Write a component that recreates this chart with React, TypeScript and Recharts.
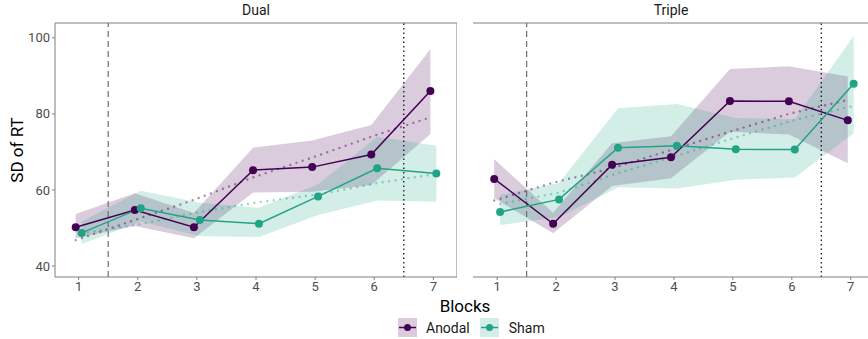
import React from "react";
import {
  Area,
  ComposedChart,
  Line,
  ReferenceLine,
  XAxis,
  YAxis,
} from "recharts";

const blocks = [1, 2, 3, 4, 5, 6, 7];

// Dual
const dualAnodalMean = [50.2, 54.7, 50.2, 65.2, 66.0, 69.3, 86.0];
const dualAnodalLow = [47.3, 50.5, 47.3, 59.3, 59.5, 61.3, 74.7];
const dualAnodalHigh = [53.7, 59.1, 53.9, 71.1, 73.0, 77.1, 97.0];
const dualAnodalTrend = [46.8, 52.1, 57.4, 63.3, 68.5, 74.0, 79.1];

const dualShamMean = [48.7, 55.2, 52.1, 51.1, 58.3, 65.7, 64.3];
const dualShamLow = [45.8, 51.7, 47.8, 47.6, 53.4, 57.2, 56.9];
const dualShamHigh = [51.7, 59.8, 56.6, 55.3, 61.5, 74.0, 71.6];
const dualShamTrend = [48.6, 51.0, 54.2, 56.8, 58.8, 61.8, 64.2];

// Triple
const tripleAnodalMean = [62.9, 51.1, 66.6, 68.6, 83.4, 83.3, 78.3];
const tripleAnodalLow = [57.8, 48.6, 61.0, 63.1, 75.3, 74.6, 67.0];
const tripleAnodalHigh = [68.1, 54.0, 72.3, 74.1, 91.8, 92.5, 89.8];
const tripleAnodalTrend = [57.2, 61.9, 65.7, 70.5, 75.3, 80.0, 83.7];

const tripleShamMean = [54.2, 57.5, 71.1, 71.6, 70.7, 70.6, 87.9];
const tripleShamLow = [50.8, 52.8, 60.7, 60.4, 62.7, 63.3, 74.9];
const tripleShamHigh = [58.7, 61.8, 81.5, 82.6, 78.9, 78.6, 100.5];
const tripleShamTrend = [56.3, 59.3, 64.4, 69.0, 73.8, 78.4, 82.1];

const yTicks = [40, 60, 80, 100];
const yDomain: [number, number] = [37.1, 103.9];

const ANODAL = "#440154";
const SHAM = "#21a386";
const BORDER = "#7f7f7f";
const FONT = "Roboto, 'DejaVu Sans', sans-serif";

type Row = { x: number; mean: number; band: [number, number]; trend: number };

function buildRows(
  mean: number[],
  low: number[],
  high: number[],
  trend: number[],
  dodge: number
): Row[] {
  return blocks.map((b, i) => ({
    x: b + dodge,
    mean: mean[i],
    band: [low[i], high[i]],
    trend: trend[i],
  }));
}

type PanelProps = {
  title: string;
  left: number;
  width: number;
  domain: [number, number];
  yLabels: boolean;
  anodal: Row[];
  sham: Row[];
};

function Panel({ title, left, width, domain, yLabels, anodal, sham }: PanelProps) {
  const yw = yLabels ? 55 : 0;
  const plotW = width - yw;
  return (
    <div style={{ position: "absolute", left, top: 0, width, height: 339 }}>
      <div
        style={{
          position: "absolute",
          left: yw,
          width: plotW,
          top: 2,
          textAlign: "center",
          fontFamily: FONT,
          fontSize: 14,
          color: "#1a1a1a",
        }}
      >
        {title}
      </div>
      <ComposedChart
        width={width}
        height={339}
        margin={{ top: 23, right: 0, bottom: 0, left: 0 }}
      >
        <XAxis
          xAxisId="b"
          dataKey="x"
          type="number"
          domain={domain}
          allowDataOverflow
          ticks={blocks}
          tickSize={3}
          tickLine={{ stroke: BORDER }}
          axisLine={{ stroke: BORDER }}
          tick={{ fill: "#4d4d4d", fontSize: 13, fontFamily: FONT }}
          height={62}
        />
        <YAxis
          yAxisId="l"
          type="number"
          domain={yDomain}
          allowDataOverflow
          ticks={yTicks}
          tickSize={3}
          width={yw}
          tick={yLabels ? { fill: "#4d4d4d", fontSize: 13, fontFamily: FONT } : false}
          tickLine={yLabels ? { stroke: BORDER } : false}
          axisLine={{ stroke: BORDER }}
        />
        <Area
          xAxisId="b"
          yAxisId="l"
          data={anodal}
          dataKey="band"
          type="linear"
          stroke="none"
          fill={ANODAL}
          fillOpacity={0.2}
          isAnimationActive={false}
        />
        <Area
          xAxisId="b"
          yAxisId="l"
          data={sham}
          dataKey="band"
          type="linear"
          stroke="none"
          fill={SHAM}
          fillOpacity={0.2}
          isAnimationActive={false}
        />
        {/* panel border: top and right */}
        <ReferenceLine
          xAxisId="b"
          yAxisId="l"
          y={yDomain[1]}
          stroke={BORDER}
          strokeWidth={1}
          ifOverflow="visible"
        />
        <ReferenceLine
          xAxisId="b"
          yAxisId="l"
          x={domain[1]}
          stroke={BORDER}
          strokeWidth={1}
          ifOverflow="visible"
        />
        <ReferenceLine
          xAxisId="b"
          yAxisId="l"
          x={1.5}
          stroke="#6e6e6e"
          strokeWidth={1.2}
          strokeDasharray="6 4"
        />
        <ReferenceLine
          xAxisId="b"
          yAxisId="l"
          x={6.5}
          stroke="#000"
          strokeWidth={1.2}
          strokeDasharray="1.5 3"
        />
        <Line
          xAxisId="b"
          yAxisId="l"
          data={anodal}
          dataKey="trend"
          type="linear"
          stroke={ANODAL}
          strokeOpacity={0.45}
          strokeWidth={2.4}
          strokeDasharray="0 6.5"
          strokeLinecap="round"
          dot={false}
          isAnimationActive={false}
        />
        <Line
          xAxisId="b"
          yAxisId="l"
          data={sham}
          dataKey="trend"
          type="linear"
          stroke={SHAM}
          strokeOpacity={0.45}
          strokeWidth={2.4}
          strokeDasharray="0 6.5"
          strokeLinecap="round"
          dot={false}
          isAnimationActive={false}
        />
        <Line
          xAxisId="b"
          yAxisId="l"
          data={anodal}
          dataKey="mean"
          type="linear"
          stroke={ANODAL}
          strokeWidth={1.5}
          dot={{ r: 4, fill: ANODAL, stroke: ANODAL, strokeWidth: 0 }}
          isAnimationActive={false}
        />
        <Line
          xAxisId="b"
          yAxisId="l"
          data={sham}
          dataKey="mean"
          type="linear"
          stroke={SHAM}
          strokeWidth={1.5}
          dot={{ r: 4, fill: SHAM, stroke: SHAM, strokeWidth: 0 }}
          isAnimationActive={false}
        />
      </ComposedChart>
    </div>
  );
}

function LegendKey({ color }: { color: string }) {
  return (
    <svg width={19} height={19} style={{ display: "block" }}>
      <rect x={0} y={0} width={19} height={19} fill={color} fillOpacity={0.2} />
      <line x1={1} y1={9.5} x2={18} y2={9.5} stroke={color} strokeWidth={1.5} />
      <circle cx={9.5} cy={9.5} r={3.5} fill={color} />
    </svg>
  );
}

export default function App() {
  const dualA = buildRows(dualAnodalMean, dualAnodalLow, dualAnodalHigh, dualAnodalTrend, -0.05);
  const dualS = buildRows(dualShamMean, dualShamLow, dualShamHigh, dualShamTrend, 0.05);
  const tripleA = buildRows(tripleAnodalMean, tripleAnodalLow, tripleAnodalHigh, tripleAnodalTrend, -0.05);
  const tripleS = buildRows(tripleShamMean, tripleShamLow, tripleShamHigh, tripleShamTrend, 0.05);

  return (
    <div
      style={{
        position: "absolute",
        left: 0,
        top: 0,
        width: 868,
        height: 339,
        overflow: "hidden",
        background: "#fff",
        fontFamily: FONT,
      }}
    >
      <Panel
        title="Dual"
        left={0}
        width={457}
        domain={[0.6, 7.4]}
        yLabels
        anodal={dualA}
        sham={dualS}
      />
      <Panel
        title="Triple"
        left={473}
        width={396}
        domain={[0.59, 7.31]}
        yLabels={false}
        anodal={tripleA}
        sham={tripleS}
      />
      <div
        style={{
          position: "absolute",
          left: 17,
          top: 150,
          transform: "translate(-50%, -50%) rotate(-90deg)",
          fontSize: 17,
          color: "#000",
          whiteSpace: "nowrap",
        }}
      >
        SD of RT
      </div>
      <div
        style={{
          position: "absolute",
          left: 465,
          top: 296,
          transform: "translateX(-50%)",
          fontSize: 17,
          color: "#000",
        }}
      >
        Blocks
      </div>
      <div
        style={{
          position: "absolute",
          left: 398,
          top: 318,
          display: "flex",
          alignItems: "center",
          fontSize: 14,
          color: "#1a1a1a",
        }}
      >
        <LegendKey color={ANODAL} />
        <span style={{ marginLeft: 9, marginRight: 10 }}>Anodal</span>
        <LegendKey color={SHAM} />
        <span style={{ marginLeft: 10 }}>Sham</span>
      </div>
    </div>
  );
}
